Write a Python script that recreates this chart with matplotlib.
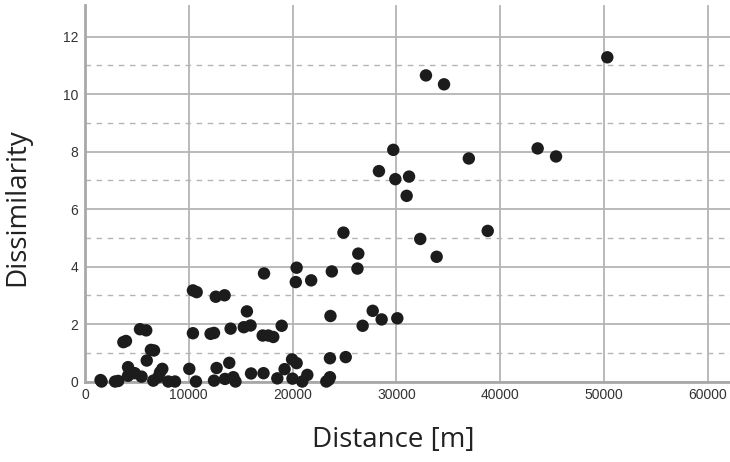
import matplotlib.pyplot as plt
from matplotlib.ticker import MultipleLocator, FixedLocator

# distance [m] vs dissimilarity
distance = [1500, 1600, 2900, 3200, 3700, 3950, 4150, 4150, 4800, 5300,
            5450, 5900, 5950, 6350, 6650, 6580, 7060, 7230, 7450, 8030,
            8670, 10050, 10400, 10760, 10400, 10690, 12100, 12430, 12600, 13450,
            12680, 12430, 13900, 14030, 13490, 14290, 14500, 15600, 15300, 15950,
            16000, 17250, 17200, 17120, 17660, 18140, 18950, 18530, 19230, 19950,
            20390, 19990, 20390, 20310, 20930, 21420, 21790, 23250, 23480, 23600,
            23600, 23650, 23780, 24900, 25120, 26330, 26250, 26750, 27720, 28580,
            30090, 30990, 32300, 33880, 38800, 29700, 28320, 29900, 31220, 36980,
            43610, 45380, 32850, 34590, 50320]
dissimilarity = [0.05, 0.0, 0.0, 0.02, 1.37, 1.41, 0.5, 0.2, 0.29, 1.82,
                 0.17, 1.78, 0.73, 1.1, 1.08, 0.03, 0.15, 0.32, 0.44, 0.0,
                 0.0, 0.44, 3.17, 3.11, 1.68, 0.0, 1.66, 1.69, 2.95, 3.0,
                 0.47, 0.03, 0.65, 1.84, 0.09, 0.15, 0.0, 2.44, 1.89, 1.95,
                 0.28, 3.76, 0.29, 1.6, 1.6, 1.55, 1.94, 0.11, 0.43, 0.77,
                 0.64, 0.1, 3.96, 3.46, 0.0, 0.23, 3.52, 0.0, 0.06, 0.15,
                 0.81, 2.28, 3.83, 5.18, 0.85, 4.45, 3.93, 1.94, 2.46, 2.16,
                 2.2, 6.46, 4.96, 4.34, 5.24, 8.06, 7.32, 7.04, 7.13, 7.76,
                 8.11, 7.83, 10.65, 10.34, 11.28]
minor_y = [1, 3, 5, 7, 9, 11]

fig = plt.figure(figsize=(7.3, 4.62), dpi=100)
ax = fig.add_axes([0.1164, 0.1742, 0.8836, 0.815])

grid_c = "#b4b4b4"
ax.set_xlim(0, 62140)
ax.set_ylim(0, 13.1)
ax.xaxis.set_major_locator(MultipleLocator(10000))
ax.yaxis.set_major_locator(MultipleLocator(2))
ax.yaxis.set_minor_locator(FixedLocator(minor_y))
ax.set_axisbelow(True)
ax.grid(True, which="major", color=grid_c, lw=1.3, ls="-")
ax.grid(True, which="minor", axis="y", color=grid_c, lw=1.0, ls=(0, (4, 4)))

for s in ["top", "right"]:
    ax.spines[s].set_visible(False)
for s in ["left", "bottom"]:
    ax.spines[s].set_color("#a8a8a8")
    ax.spines[s].set_linewidth(2)

ax.tick_params(which="both", length=0, labelsize=10, labelcolor="#333333")
ax.tick_params(axis="y", pad=5)
ax.tick_params(axis="x", pad=5)
for lab in ax.get_xticklabels() + ax.get_yticklabels():
    lab.set_family("Liberation Sans")

ax.scatter(distance, dissimilarity, s=80, color="#1c1c1c", edgecolors="none",
           zorder=3, clip_on=False)

fig.text(393 / 730, 0.048, "Distance [m]", ha="center", va="center",
         fontsize=20, family="Open Sans", color="#222222")
fig.text(0.024, 0.552, "Dissimilarity", ha="center", va="center", rotation=90,
         fontsize=20, family="Open Sans", color="#222222")

fig.savefig("out.png", dpi=100)
